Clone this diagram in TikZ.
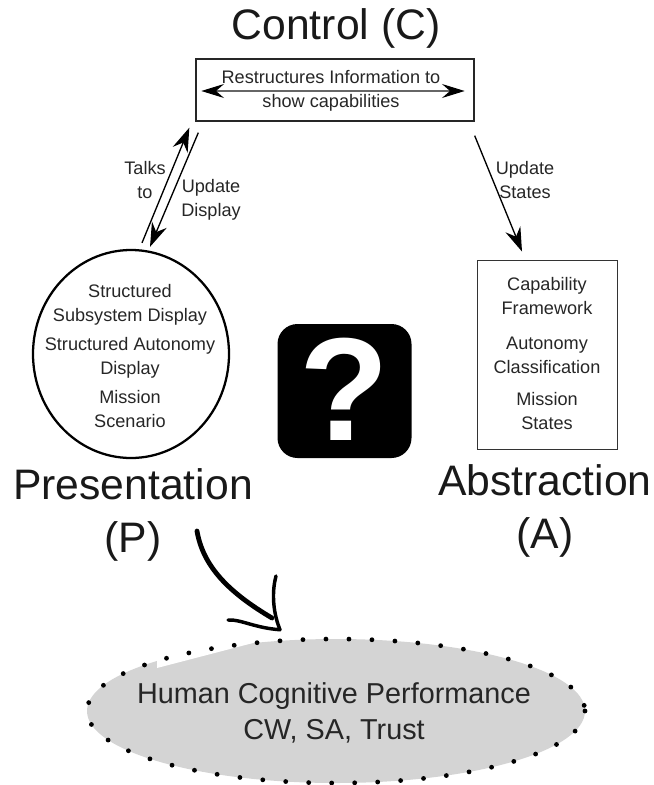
\documentclass[tikz,border=0pt]{standalone}
\usepackage{fontspec}
\setmainfont{Liberation Sans}
\usetikzlibrary{arrows.meta,calc,shapes.geometric}
\tikzset{
  x=0.75pt,y=-0.75pt,
  small/.style={font=\fontsize{13.6pt}{18pt}\selectfont,text=black!85,align=center,inner sep=0pt},
  big/.style={font=\fontsize{32pt}{38pt}\selectfont,text=black!90,align=center,inner sep=0pt},
  thinarrow/.style={line width=1pt,-{Stealth[length=18pt,width=12pt,inset=6pt]}},
  thinboth/.style={line width=1pt,draw=black!60,{Stealth[length=17pt,width=10.5pt,inset=6pt,black]}-{Stealth[length=17pt,width=10.5pt,inset=6pt,black]}},
  dotring/.style={line width=3.6pt,line cap=round,dash pattern=on 0pt off 17.25pt},
  handshaft/.style={line width=3.6pt,line cap=round,line join=round},
  handbarb/.style={line width=2.6pt,line cap=round,line join=round},
}
\begin{document}
\begin{tikzpicture}
\useasboundingbox (0,0) rectangle (653,785);
% titles
\node[big] (ctitle) at (336,28) {Control (C)};
\node[big] (ptitle) at (133,484) {Presentation};
\node[big] (pletter) at (133,541) {(P)};
\node[big] (atitle) at (545,480) {Abstraction};
\node[big] (aletter) at (545,537) {(A)};
% boxes
\node[draw=black!85,line width=1pt,minimum width=208.5pt,minimum height=46.5pt,inner sep=0pt] (ctrl) at (335,90) {};
\node[ellipse,draw=black,line width=1.7pt,minimum width=147pt,minimum height=156pt,inner sep=0pt] (pres) at (131,354) {};
\node[draw=black!80,line width=0.7pt,minimum width=105pt,minimum height=141.75pt,inner sep=0pt] (abs) at (547,354.5) {};
% box texts
\draw[thinboth] ($(ctrl.west)+(6,1)$) -- ($(ctrl.east)+(-10,1)$);
\node[small] (ctext) at (331,90.5) {Restructures Information to\\show capabilities};
\node[small] (ptext) at (130,356.5) {Structured\\Subsystem Display\\[3.75pt]Structured Autonomy\\Display\\[3.75pt]Mission\\Scenario};
\node[small] (atext) at (547,353.5) {Capability\\Framework\\[8pt]Autonomy\\Classification\\[6pt]Mission\\States};
% connectors
\draw[thinarrow] ($(pres.north)+(11,-6)$) -- ($(ctrl.south west)+(-6,6)$);
\draw[thinarrow] ($(ctrl.south west)+(3,11)$) -- ($(pres.north)+(19,-2)$);
\draw[thinarrow] ($(ctrl.south east)+(0,14)$) -- ($(abs.north)+(-25,-8)$);
\node[small] (talks) at (145,180) {Talks\\to};
\node[small] (upd) at (211,200) {Update\\Display};
\node[small] (ups) at (525,180) {Update\\States};
% question mark
\node[fill=black,rounded corners=15pt,minimum size=100.5pt,inner sep=0pt,text=white,font=\fontsize{110pt}{110pt}\selectfont\bfseries] (q) at (344.5,391) {\raisebox{2.5pt}{?}};
% performance ellipse
\node[ellipse,fill=black!17,minimum width=373.5pt,minimum height=108pt,inner sep=0pt] (perf) at (336,711) {};
\fill[white] (157,668) -- (253,643) -- (253,630) -- (157,640) -- cycle;
\draw[dotring] (perf.center) ellipse [x radius=249,y radius=72];
\node[font=\fontsize{21.6pt}{27pt}\selectfont,text=black!85,align=center,inner sep=0pt] (perftext) at (334,713) {Human Cognitive Performance\\CW, SA, Trust};
% hand drawn arrow
\coordinate (hs) at (197,531);
\coordinate (ht) at ($(perf.north)+(-56,-9)$);
\draw[handshaft] (hs) .. controls (203,566) and (228,592) .. (272,618);
\draw[handbarb] (228,620) .. controls (240,619) and (255,628) .. (ht);
\draw[handbarb] (276,576) .. controls (271,595) and (274,615) .. (ht);
\end{tikzpicture}
\end{document}
